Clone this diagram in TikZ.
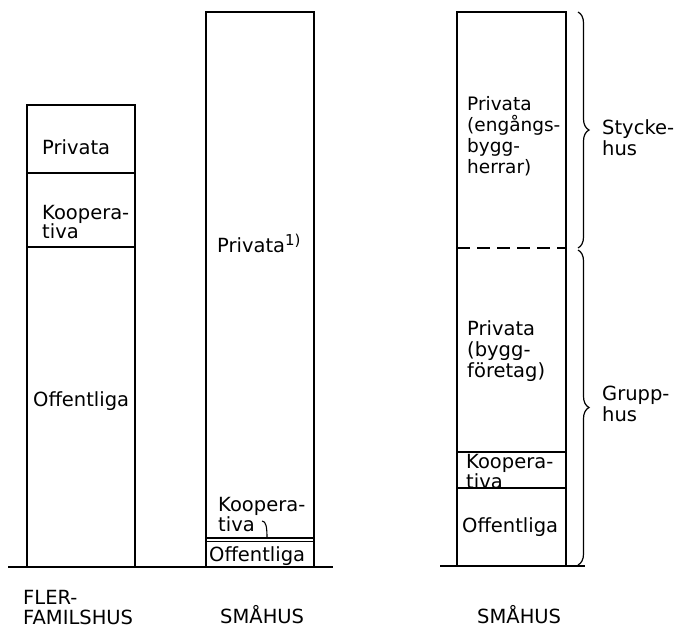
\documentclass[tikz,border=0pt]{standalone}
\usepackage{fontspec}
\setmainfont{DejaVu Sans}
\usetikzlibrary{decorations.pathreplacing}
\begin{document}
\begin{tikzpicture}[x=1pt,y=-1pt,
  bar/.style={line width=1.8pt},
  divider/.style={line width=1.1pt},
  ground/.style={line width=1.8pt},
  lbl/.style={anchor=west,inner sep=0pt,align=left,font=\fontsize{19.5}{21}\selectfont},
  tightlbl/.style={lbl,font=\fontsize{19.5}{16}\selectfont},
  midlbl/.style={lbl,font=\fontsize{19.5}{20}\selectfont},
  bracestyle/.style={line width=1.2pt,decorate,decoration={brace,amplitude=11pt}}]
\useasboundingbox (0,0) rectangle (684,629);
% ground lines
\coordinate (g1a) at (8,567); \coordinate (g1b) at (333,567);
\coordinate (g2a) at (440,566); \coordinate (g2b) at (585,566);
\draw[ground] (g1a) -- (g1b);
\draw[ground] (g2a) -- (g2b);
% left bar
\coordinate (L1) at (27,105); \coordinate (L2) at (135,567);
\coordinate (L3a) at (27,173); \coordinate (L3b) at (135,173);
\coordinate (L4a) at (27,247); \coordinate (L4b) at (135,247);
\draw[bar] (L1) rectangle (L2);
\draw[divider] (L3a) -- (L3b);
\draw[divider] (L4a) -- (L4b);
% middle bar
\coordinate (M1) at (206,12); \coordinate (M2) at (314,567);
\coordinate (M3a) at (206,538); \coordinate (M3b) at (314,538);
\coordinate (M4a) at (206,541.5); \coordinate (M4b) at (314,541.5);
\draw[bar] (M1) rectangle (M2);
\draw[divider] (M3a) -- (M3b);
\draw[divider] (M4a) -- (M4b);
% right bar
\coordinate (R1) at (457,12); \coordinate (R2) at (566,566);
\coordinate (R3a) at (457,248); \coordinate (R3b) at (566,248);
\coordinate (R4a) at (457,452); \coordinate (R4b) at (566,452);
\coordinate (R5a) at (457,488); \coordinate (R5b) at (566,488);
\draw[bar] (R1) rectangle (R2);
\draw[divider,dash pattern=on 13pt off 7pt] (R3a) -- (R3b);
\draw[divider] (R4a) -- (R4b);
\draw[divider] (R5a) -- (R5b);
% braces
\coordinate (B1) at (578,12); \coordinate (B2) at (578,248);
\coordinate (B3) at (578,250); \coordinate (B4) at (578,565);
\draw[bracestyle] (B1) -- (B2);
\draw[bracestyle] (B3) -- (B4);
% texts left
\node[lbl] (lpriv) at (42,147) {Privata};
\node[tightlbl] (lkoop) at (42,222) {Koopera-\\tiva};
\node[lbl] (loff) at (33,401) {Offentliga};
% texts middle
\node[lbl] (mpriv) at (217,243) {Privata\raisebox{7pt}{\fontsize{15}{15}\selectfont 1)}};
\node[midlbl] (mkoop) at (218,515) {Koopera-\\tiva};
\node[lbl] (moff) at (209,556) {Offentliga};
\coordinate (hk1) at (262,521); \coordinate (hk2) at (267,538);
\draw[divider] (hk1) .. controls (266,521) and (267,527) .. (hk2);
% texts right
\node[lbl,font=\fontsize{18.5}{21}\selectfont] (rpriv1) at (467,136) {Privata\\(engångs-\\bygg-\\herrar)};
\node[lbl] (rpriv2) at (467,351) {Privata\\(bygg-\\företag)};
\node[midlbl] (rkoop) at (466,472) {Koopera-\\tiva};
\node[lbl] (roff) at (462,527) {Offentliga};
\node[lbl] (styck) at (602,138) {Stycke-\\hus};
\node[lbl] (grupp) at (602,404) {Grupp-\\hus};
% bottom labels
\node[lbl,font=\fontsize{19.5}{20}\selectfont] (fler) at (23,608) {FLER-\\FAMILSHUS};
\node[lbl] (sm1) at (220,615) {SMÅHUS};
\node[lbl] (sm2) at (477,615) {SMÅHUS};
\end{tikzpicture}
\end{document}
